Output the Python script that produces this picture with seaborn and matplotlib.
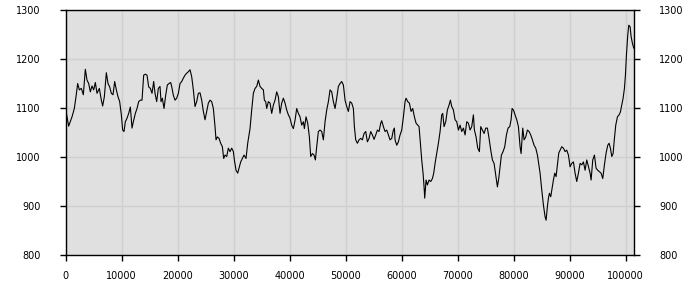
import matplotlib
matplotlib.use("Agg")
import matplotlib.pyplot as plt
import seaborn as sns
import pandas as pd

# ---- data ----
x_pos = [
    0, 565, 1161, 1577, 1875, 2172, 2470, 2827, 3184, 3541, 3839, 4137, 4434, 4732, 5030,
    5327, 5625, 6042, 6399, 6637, 6935, 7292, 7589, 7887, 8184, 8482, 8780, 9077, 9375,
    9672, 9970, 10208, 10446, 10684, 10982, 11279, 11577, 11875, 12173, 12470, 12768,
    13065, 13363, 13661, 13958, 14256, 14554, 14851, 15149, 15446, 15744,
    15982, 16280, 16577, 16875, 17053, 17291, 17589, 17887, 18184, 18482, 18780, 18958,
    19256, 19553, 19851, 20149, 20446, 20744, 21041, 21339, 21637, 21934, 22232, 22530,
    22827, 23125, 23423, 23720, 24018, 24316, 24613, 24911, 25208, 25506, 25804, 26101,
    26399, 26696, 26874, 27113, 27410, 27708, 28006, 28244, 28482, 28780, 29077, 29375,
    29673, 29970, 30149, 30446, 30744, 30982, 31279, 31577, 31875, 32232, 32530,
    32946, 33244, 33541, 33839, 34137, 34434, 34732, 35030, 35327, 35506, 35744, 35922,
    36220, 36518, 36815, 37113, 37410, 37708, 38006, 38303, 38601, 38898, 39196, 39494,
    39791, 40089, 40387, 40684, 40982, 41279, 41577, 41875, 42172, 42470, 42648, 42946,
    43244, 43541, 43779, 44077, 44375, 44613, 44851, 45149, 45446, 45744, 46041, 46339,
    46637, 46934, 47232, 47530, 47827, 48125, 48422, 48720, 49018, 49315, 49613,
    49911, 50208, 50506, 50803, 51101, 51399, 51578, 51816, 52113, 52411, 52708, 53006,
    53304, 53601, 53899, 54197, 54494, 54792, 55089, 55387, 55685, 55982, 56280, 56458,
    56756, 57054, 57351, 57649, 57946, 58244, 58542, 58720, 58839, 59137, 59434, 59732,
    60030, 60327, 60625, 60804, 61101, 61399, 61696, 61994, 62292, 62589, 62887, 63125,
    63363, 63601, 63839, 64018, 64137, 64375, 64613, 64911, 65208, 65506, 65744, 65982,
    66280, 66577,
    66875, 67173, 67351, 67589, 67887, 68185, 68482, 68720, 68958, 69256, 69554, 69851,
    70149, 70446, 70744, 71042, 71339, 71637, 71934, 72232, 72530, 72827, 73006, 73304,
    73601, 73899, 74137, 74435, 74732, 75030, 75327, 75625, 75923, 76220, 76518, 76815,
    77113, 77351, 77589, 77827, 78125, 78423, 78720, 79018, 79315, 79554, 79732, 79970,
    80268, 80565, 80863, 81160, 81339, 81637, 81875, 82172, 82470, 82768, 83065, 83363,
    83660, 83958, 84256, 84553,
    84732, 85029, 85327, 85625, 85803, 86041, 86220, 86398, 86636, 86874, 87113, 87350,
    87588, 87826, 88065, 88303, 88600, 88898, 89196, 89494, 89791, 90089, 90386, 90684,
    90982, 91279, 91577, 91875, 92172, 92470, 92768, 93065, 93363, 93660, 93839, 94137,
    94434, 94732, 95029, 95327, 95624, 95922, 96220, 96517,
    96815, 97053, 97291, 97529, 97767, 98005, 98243, 98541, 98839, 99076, 99315, 99553,
    99791, 99969, 100148, 100386, 100565, 100803, 100981, 101220, 101458,
]
values = [
    1099, 1063, 1082, 1099, 1123, 1150, 1137, 1140, 1127, 1179, 1157, 1150, 1133, 1145, 1137,
    1152, 1130, 1140, 1116, 1104, 1123, 1172, 1150, 1143, 1130, 1127, 1154, 1137, 1123,
    1113, 1086, 1055, 1052, 1072, 1079, 1089, 1102, 1059, 1075, 1089, 1099, 1113, 1116,
    1116, 1167, 1169, 1167, 1143, 1140, 1130, 1154,
    1130, 1113, 1140, 1144, 1113, 1120, 1099, 1126, 1147, 1150, 1152, 1144,
    1126, 1116, 1120, 1130, 1150, 1154, 1161, 1167, 1171, 1174, 1178, 1164,
    1137, 1103, 1113, 1130, 1131, 1116, 1093, 1076, 1093, 1110, 1116, 1113,
    1099, 1062, 1035, 1041, 1038, 1028, 1021, 997, 1004, 1001, 1018, 1011,
    1018, 1011, 994, 973, 967, 977, 990, 997, 1004, 997, 1028,
    1058, 1096, 1130, 1140, 1144, 1157, 1144, 1140, 1137, 1116, 1113, 1099,
    1113, 1110, 1089, 1106, 1116, 1133, 1123, 1089, 1110, 1120, 1110, 1096,
    1086, 1079, 1065, 1058, 1075, 1099, 1089, 1082, 1065, 1072, 1058, 1082,
    1069, 1041, 1001, 1007, 1004, 994, 1021, 1052, 1055, 1052, 1035, 1072,
    1096, 1113, 1137, 1133, 1113, 1099, 1120, 1144, 1150, 1154, 1147,
    1116, 1103, 1093, 1113, 1110, 1099, 1062, 1035, 1028, 1035, 1038, 1035,
    1048, 1052, 1031, 1038, 1052, 1045, 1036, 1045, 1055, 1052, 1069, 1074,
    1062, 1052, 1055, 1045, 1035, 1038, 1055, 1059, 1035, 1024, 1031, 1045,
    1055, 1082, 1113, 1120, 1113, 1110, 1093, 1099, 1082, 1069, 1065, 1062,
    1028, 994, 967, 939, 916, 953, 943, 953, 950, 956, 967, 987,
    1007, 1028,
    1052, 1086, 1089, 1062, 1072, 1096, 1106, 1116, 1103, 1096, 1076, 1072,
    1055, 1065, 1052, 1059, 1045, 1072, 1069, 1055, 1062, 1086, 1055, 1041,
    1018, 1011, 1062, 1055, 1048, 1059, 1059, 1038, 1014, 994, 987, 963,
    939, 956, 980, 1004, 1011, 1021, 1045, 1059, 1062, 1076, 1099, 1096,
    1086, 1076, 1062, 1021, 1007, 1059, 1035, 1041, 1055, 1052, 1045, 1035,
    1024, 1018, 1004, 980,
    967, 933, 902, 878, 871, 899, 916, 926, 919, 936, 953, 967,
    960, 984, 1008, 1014, 1021, 1018, 1011, 1014, 1004, 980, 987, 990,
    967, 950, 967, 987, 984, 990, 973, 994, 980, 967, 953, 994,
    1004, 977, 973, 970, 967, 956, 984, 1008,
    1024, 1028, 1018, 1001, 1007, 1038, 1065, 1082, 1086, 1092, 1106, 1120,
    1140, 1167, 1208, 1249, 1269, 1266, 1246, 1232, 1222,
]
x_ticks = [0, 10000, 20000, 30000, 40000, 50000, 60000, 70000, 80000, 90000, 100000]
y_ticks = [800, 900, 1000, 1100, 1200, 1300]

df = pd.DataFrame({"x": x_pos, "v": values})

sns.set_theme(style="white")
plt.rcParams["font.family"] = ["DejaVu Sans"]

fig = plt.figure(figsize=(7, 3), dpi=100)
ax = fig.add_axes([65.5 / 700, 45 / 300, (634 - 65.5) / 700, 245 / 300])
ax.set_facecolor("#e0e0e0")

sns.lineplot(data=df, x="x", y="v", ax=ax, color="black", linewidth=0.8,
             estimator=None, sort=False)

ax.set_xlim(0, 101500)
ax.set_ylim(800, 1300)
ax.set_xticks(x_ticks)
ax.set_xticklabels([str(t) for t in x_ticks])
ax.set_yticks(y_ticks)
ax.set_yticklabels([str(t) for t in y_ticks])
ax.set_xlabel("")
ax.set_ylabel("")

ax.grid(True, color="#d0d0d0", linewidth=1)
ax.set_axisbelow(True)
for s in ax.spines.values():
    s.set_color("black")
    s.set_linewidth(1)

ax.tick_params(axis="both", direction="out", length=4, width=1, color="black",
               labelsize=7, labelcolor="black")
ax.tick_params(axis="y", left=True, right=True, labelleft=True, labelright=True, pad=14)
ax.tick_params(axis="x", bottom=True, top=False, pad=7.5)

fig.savefig("out.png", dpi=100)
